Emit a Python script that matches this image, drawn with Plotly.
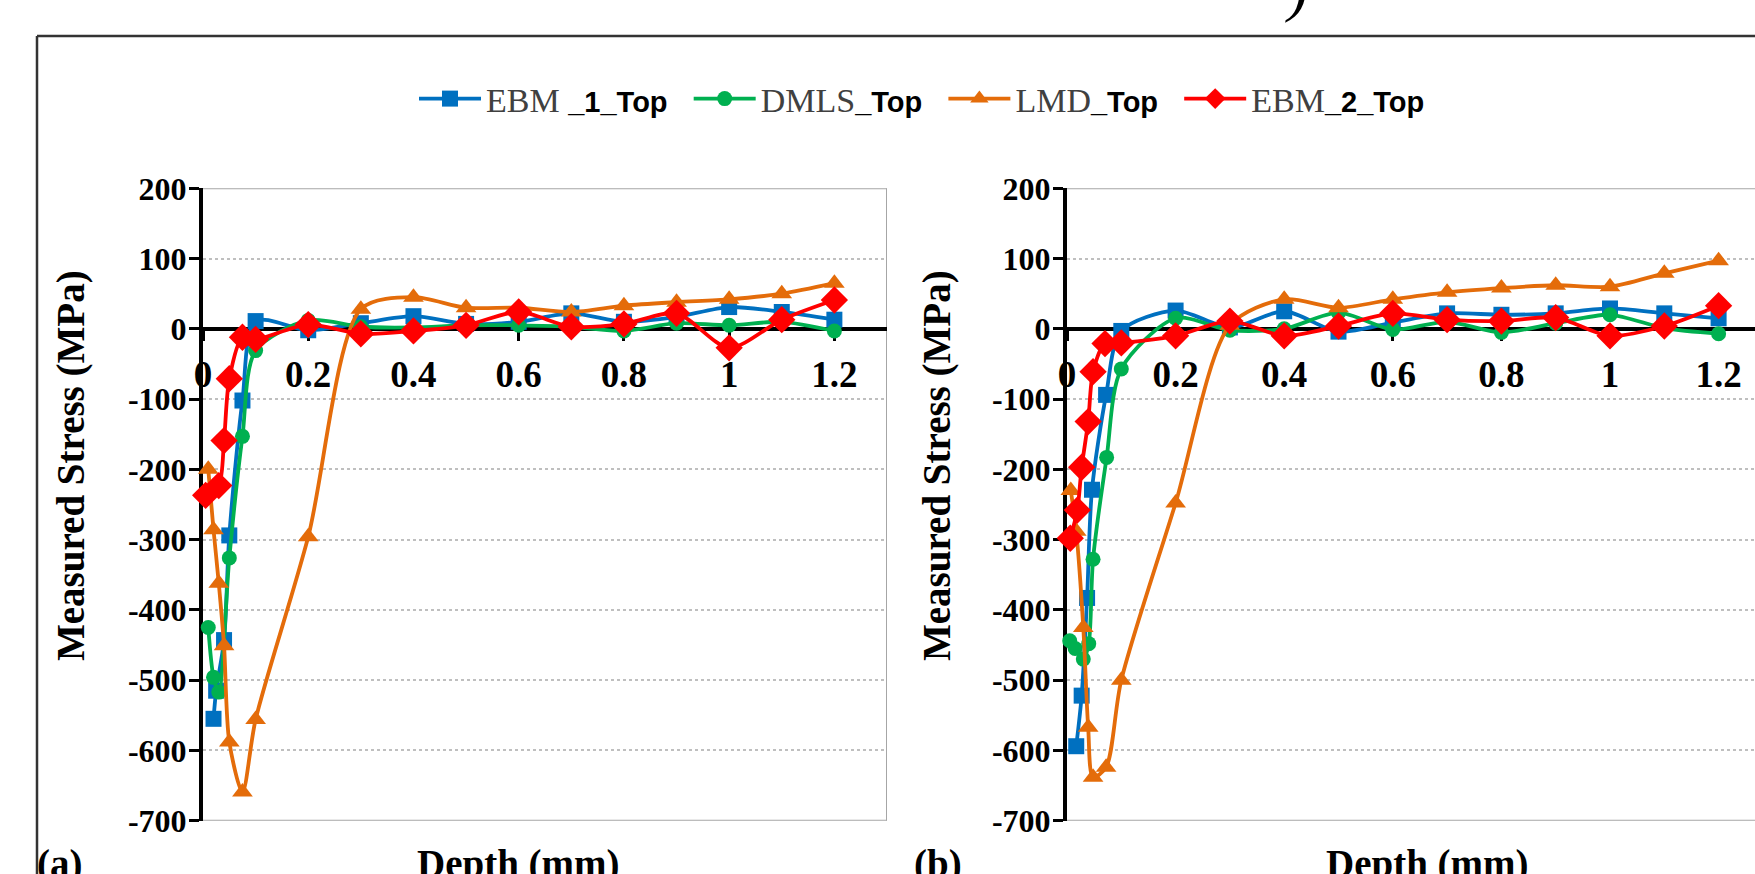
import plotly.graph_objects as go

W, H = 1755, 874

# ---------------- data ----------------
depth_ticks = [0, 0.2, 0.4, 0.6, 0.8, 1.0, 1.2]
depth_tick_labels = ["0", "0.2", "0.4", "0.6", "0.8", "1", "1.2"]
stress_ticks = [-700, -600, -500, -400, -300, -200, -100, 0, 100, 200]
stress_tick_labels = ["-700", "-600", "-500", "-400", "-300", "-200", "-100", "0", "100", "200"]

series_names = ["EBM _1_Top", "DMLS_Top", "LMD_Top", "EBM_2_Top"]

# panel (a)
a_ebm1_x = [0.02, 0.025, 0.04, 0.05, 0.075, 0.1, 0.2, 0.3, 0.4, 0.5, 0.6, 0.7, 0.8, 0.9, 1.0, 1.1, 1.2]
a_ebm1_y = [-555, -515, -443, -294, -102, 11, -2, 8, 18, 7, 10, 22, 10, 17, 31, 24, 13]
a_dmls_x = [0.01, 0.02, 0.03, 0.05, 0.075, 0.1, 0.2, 0.3, 0.4, 0.5, 0.6, 0.7, 0.8, 0.9, 1.0, 1.1, 1.2]
a_dmls_y = [-425, -496, -517, -326, -153, -31, 12, 3, 2, 5, 5, 3, -3, 8, 5, 10, -3]
a_lmd_x = [0.01, 0.02, 0.03, 0.04, 0.05, 0.075, 0.1, 0.2, 0.3, 0.4, 0.5, 0.6, 0.7, 0.8, 0.9, 1.0, 1.1, 1.2]
a_lmd_y = [-200, -286, -362, -451, -588, -659, -556, -296, 28, 45, 30, 30, 24, 33, 38, 42, 50, 65]
a_ebm2_x = [0.005, 0.03, 0.04, 0.05, 0.075, 0.1, 0.2, 0.3, 0.4, 0.5, 0.6, 0.7, 0.8, 0.9, 1.0, 1.1, 1.2]
a_ebm2_y = [-237, -223, -159, -71, -12, -15, 6, -7, -3, 5, 24, 3, 7, 22, -27, 13, 41]

# panel (b)
b_ebm1_x = [0.017, 0.027, 0.037, 0.046, 0.072, 0.1, 0.2, 0.3, 0.4, 0.5, 0.6, 0.7, 0.8, 0.9, 1.0, 1.1, 1.2]
b_ebm1_y = [-594, -522, -383, -229, -94, -3, 26, 2, 25, -4, 9, 22, 20, 22, 29, 22, 15]
b_dmls_x = [0.005, 0.015, 0.03, 0.04, 0.048, 0.073, 0.1, 0.2, 0.3, 0.4, 0.5, 0.6, 0.7, 0.8, 0.9, 1.0, 1.1, 1.2]
b_dmls_y = [-444, -455, -470, -448, -328, -183, -57, 15, -2, 0, 23, -1, 10, -5, 8, 20, 1, -7]
b_lmd_x = [0.007, 0.017, 0.03, 0.039, 0.048, 0.072, 0.1, 0.2, 0.3, 0.4, 0.5, 0.6, 0.7, 0.8, 0.9, 1.0, 1.1, 1.2]
b_lmd_y = [-230, -288, -425, -567, -638, -624, -500, -248, 5, 42, 30, 42, 52, 58, 62, 60, 79, 97]
b_ebm2_x = [0.006, 0.019, 0.027, 0.039, 0.048, 0.07, 0.1, 0.2, 0.3, 0.4, 0.5, 0.6, 0.7, 0.8, 0.9, 1.0, 1.1, 1.2]
b_ebm2_y = [-298, -258, -197, -132, -61, -21, -20, -10, 11, -10, 4, 22, 13, 11, 16, -10, 4, 33]

# ---------------- styling ----------------
SERIF = "Liberation Serif, Times New Roman, serif"

colors = ["#0070C0", "#00B050", "#E46C0A", "#FF0000"]
symbols = ["square", "circle", "triangle-up", "diamond"]
msizes = [16, 15, 18, 21]
SP = "<span style='font-family:Liberation Sans, Arial;font-size:29px;color:#000000'><b>"
PAD = "&nbsp;&nbsp;"
legend_labels = [
    "EBM " + SP + "_1_Top" + PAD + "</b></span>",
    "DMLS" + SP + "_Top" + PAD + "</b></span>",
    "LMD" + SP + "_Top" + PAD + "</b></span>",
    "EBM" + SP + "_2_Top</b></span>",
]


def fx(p):
    return p / W


def fy(p):
    return 1 - p / H


fig = go.Figure()

panels = [
    ("x", "y", [(a_ebm1_x, a_ebm1_y), (a_dmls_x, a_dmls_y), (a_lmd_x, a_lmd_y), (a_ebm2_x, a_ebm2_y)], True),
    ("x2", "y2", [(b_ebm1_x, b_ebm1_y), (b_dmls_x, b_dmls_y), (b_lmd_x, b_lmd_y), (b_ebm2_x, b_ebm2_y)], False),
]
for xa, ya, data, show in panels:
    for i, (xs, ys) in enumerate(data):
        fig.add_trace(go.Scatter(
            x=xs, y=ys, xaxis=xa, yaxis=ya,
            mode="lines+markers",
            name=legend_labels[i],
            line=dict(color=colors[i], width=3.8, shape="spline", smoothing=0.8),
            marker=dict(symbol=symbols[i], size=msizes[i], color=colors[i]),
            cliponaxis=False,
            showlegend=show,
        ))

# geometry (pixels)
y_top_px, y_bot_px = 188.3, 820.7
y_dom = [fy(y_bot_px), fy(y_top_px)]
y_min, y_max = -700, 200
zero_pos = y_dom[0] + (0 - y_min) / (y_max - y_min) * (y_dom[1] - y_dom[0])

left_x0, left_x1 = 203, 887
right_x0 = 1067
left_range = [0, 1.3]
right_range = [0, (W - right_x0) / 543.0]

xtickfont = dict(family=SERIF, size=37, color="black", weight="bold")
ytickfont = dict(family=SERIF, size=32, color="black", weight="bold")

common_x = dict(
    anchor="free", position=zero_pos,
    showline=True, linecolor="black", linewidth=4,
    ticks="outside", ticklen=10, tickwidth=3, tickcolor="black",
    tickvals=depth_ticks, ticktext=depth_tick_labels, tickfont=xtickfont,
    showgrid=False, zeroline=False, layer="below traces",
    ticklabelstandoff=2, automargin=False,
)
common_y = dict(
    domain=y_dom, range=[y_min, y_max],
    showline=True, linecolor="black", linewidth=4,
    ticks="outside", ticklen=10, tickwidth=3, tickcolor="black",
    tickvals=stress_ticks, ticktext=stress_tick_labels, tickfont=ytickfont,
    showgrid=True, gridcolor="#BFBFBF", gridwidth=2, griddash="dot",
    zeroline=False, layer="below traces",
    ticklabelstandoff=-4, automargin=False,
)

fig.update_layout(
    width=W, height=H,
    margin=dict(l=0, r=0, t=0, b=0, autoexpand=False),
    paper_bgcolor="white", plot_bgcolor="white",
    xaxis=dict(domain=[fx(left_x0), fx(left_x1)], range=left_range, **common_x),
    yaxis=dict(anchor="x", **common_y),
    xaxis2=dict(domain=[fx(right_x0), 1.0], range=right_range, **common_x),
    yaxis2=dict(anchor="x2", **common_y),
    legend=dict(
        orientation="h", x=fx(922), xanchor="center", y=fy(99), yanchor="middle",
        font=dict(family=SERIF, size=34, color="#404040"),
        bgcolor="rgba(0,0,0,0)", itemwidth=62, traceorder="normal",
    ),
    showlegend=True,
)

border = dict(color="#A6A6A6", width=2)
shapes = [
    # panel (a) plot-area border
    dict(type="line", xref="x", yref="y", x0=0, x1=left_range[1], y0=y_max, y1=y_max, line=border, layer="between"),
    dict(type="line", xref="x", yref="y", x0=0, x1=left_range[1], y0=y_min, y1=y_min, line=border, layer="between"),
    dict(type="line", xref="x", yref="y", x0=left_range[1], x1=left_range[1], y0=y_min, y1=y_max, line=border, layer="between"),
    # panel (b) plot-area border (right edge cut off)
    dict(type="line", xref="x2", yref="y2", x0=0, x1=right_range[1], y0=y_max, y1=y_max, line=border, layer="between"),
    dict(type="line", xref="x2", yref="y2", x0=0, x1=right_range[1], y0=y_min, y1=y_min, line=border, layer="between"),
    # outer frame of the figure (cut off at right and bottom)
    dict(type="line", xref="paper", yref="paper", x0=fx(37), x1=fx(37), y0=fy(36), y1=-0.1,
         line=dict(color="#333333", width=2.5)),
    dict(type="line", xref="paper", yref="paper", x0=fx(37), x1=1.1, y0=fy(36), y1=fy(36),
         line=dict(color="#333333", width=2.5)),
]
fig.update_layout(shapes=shapes)

title_font = dict(family=SERIF, size=39, color="black", weight="bold")
annotations = [
    dict(text="Measured Stress (MPa)", x=fx(71), y=fy(466), xref="paper", yref="paper",
         textangle=-90, showarrow=False, font=title_font, xanchor="center", yanchor="middle"),
    dict(text="Measured Stress (MPa)", x=fx(937), y=fy(466), xref="paper", yref="paper",
         textangle=-90, showarrow=False, font=title_font, xanchor="center", yanchor="middle"),
    dict(text="Depth (mm)", x=fx(518), y=fy(840), xref="paper", yref="paper",
         showarrow=False, font=title_font, xanchor="center", yanchor="top"),
    dict(text="Depth (mm)", x=fx(1427), y=fy(840), xref="paper", yref="paper",
         showarrow=False, font=title_font, xanchor="center", yanchor="top"),
    dict(text="(a)", x=fx(35), y=fy(840), xref="paper", yref="paper",
         showarrow=False, font=title_font, xanchor="left", yanchor="top"),
    dict(text="(b)", x=fx(912), y=fy(840), xref="paper", yref="paper",
         showarrow=False, font=title_font, xanchor="left", yanchor="top"),
    dict(text=")", x=fx(1296), y=fy(-10), xref="paper", yref="paper",
         showarrow=False, font=dict(family=SERIF, size=60, color="black", style="italic"),
         xanchor="center", yanchor="middle"),
]
fig.update_layout(annotations=annotations)

fig.write_html("out.html")
